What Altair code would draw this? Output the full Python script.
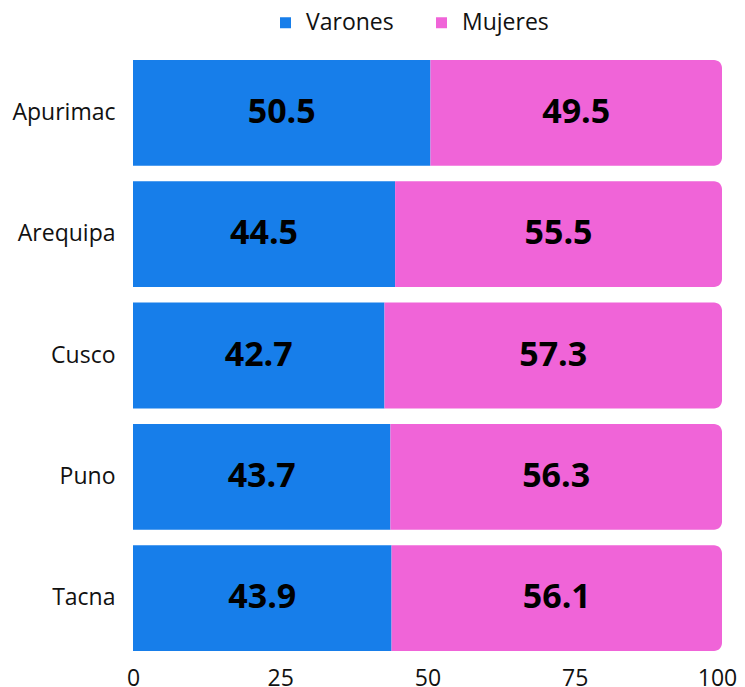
import altair as alt
import pandas as pd

regions = ["Apurimac", "Arequipa", "Cusco", "Puno", "Tacna"]
varones = [50.5, 44.5, 42.7, 43.7, 43.9]
mujeres = [49.5, 55.5, 57.3, 56.3, 56.1]
series = ["Varones", "Mujeres"]
colors = ["#177EEA", "#F064D8"]
x_ticks = [0, 25, 50, 75, 100]

rows = []
for r, v, m in zip(regions, varones, mujeres):
    rows.append({"region": r, "sexo": "Varones", "orden": 0, "valor": v})
    rows.append({"region": r, "sexo": "Mujeres", "orden": 1, "valor": m})
df = pd.DataFrame(rows)

FONT = "Open Sans"
TXT = "#111111"

base = alt.Chart(df).transform_stack(
    stack="valor", groupby=["region"], as_=["x0", "x1"],
    sort=[alt.SortField("orden", order="ascending")]
).transform_calculate(mid="(datum.x0 + datum.x1) / 2")

yenc = alt.Y("region:N", sort=regions, title=None,
             scale=alt.Scale(paddingInner=0.128, paddingOuter=0),
             axis=alt.Axis(domain=False, ticks=False, labelPadding=18,
                           labelFontSize=23, labelFont=FONT, labelColor=TXT))

xenc = alt.X("x0:Q", title=None,
             scale=alt.Scale(domain=[0, 100], nice=False),
             axis=alt.Axis(values=x_ticks, domain=False, ticks=False, grid=False,
                           labelFlush=False, labelOverlap=False,
                           labelOffset={"condition": {"test": "datum.value == 100", "value": -5},
                                        "value": 0},
                           labelPadding=16, labelFontSize=23, labelFont=FONT,
                           labelColor=TXT))

cenc = alt.Color("sexo:N", scale=alt.Scale(domain=series, range=colors),
                 title=None,
                 legend=alt.Legend(orient="none", legendX=141, legendY=-49,
                                   direction="horizontal", symbolType="square",
                                   symbolSize=121, symbolStrokeWidth=0,
                                   labelFontSize=23, labelFont=FONT,
                                   labelColor=TXT, labelOffset=9,
                                   columnPadding=36, padding=0))

bars_v = base.transform_filter(alt.datum.sexo == "Varones").mark_bar().encode(
    y=yenc, x=xenc, x2="x1:Q", color=cenc,
)
bars_m = base.transform_filter(alt.datum.sexo == "Mujeres").mark_bar(
    cornerRadiusTopRight=8, cornerRadiusBottomRight=8
).encode(
    y=yenc, x=xenc, x2="x1:Q", color=cenc,
)

labels = base.mark_text(fontSize=34, fontWeight="bold", font=FONT, color="#000000").encode(
    y=alt.Y("region:N", sort=regions),
    x=alt.X("mid:Q"),
    text=alt.Text("valor:Q", format=".1f"),
)

chart = alt.layer(bars_v, bars_m, labels).properties(
    width=589, height=591,
    padding={"left": 125, "top": 52, "right": 15, "bottom": 36},
    autosize=alt.AutoSizeParams(type="none"),
).configure_view(stroke=None)

chart.save("out.html", embed_options={"renderer": "svg", "actions": False})
